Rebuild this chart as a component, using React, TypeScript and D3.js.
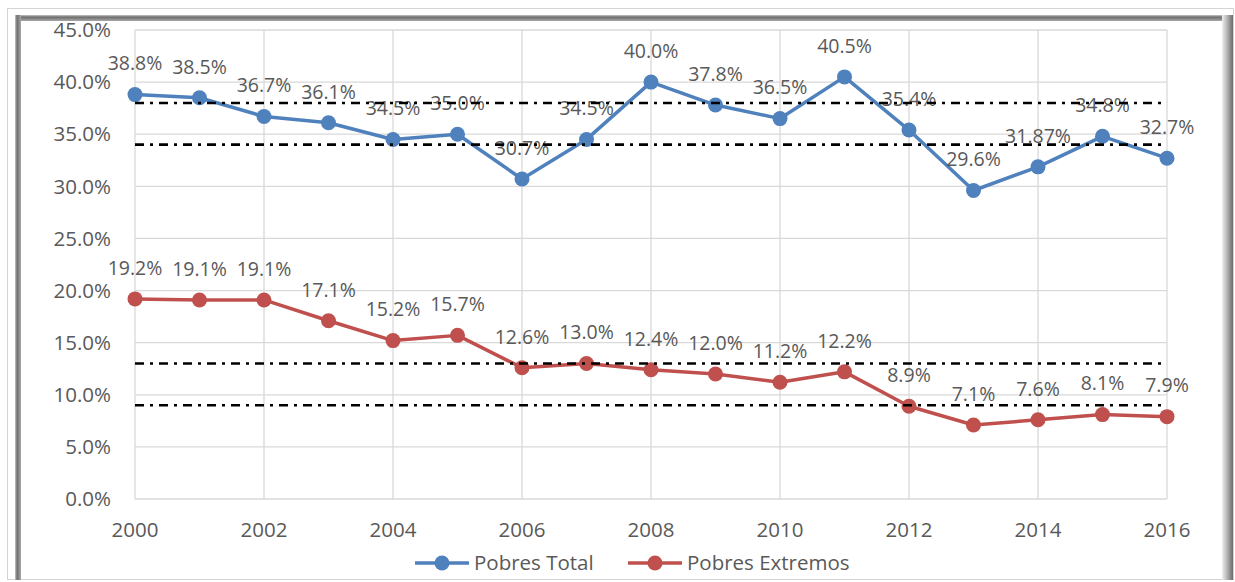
import React from 'react';
import * as d3 from 'd3';

const years = [2000, 2001, 2002, 2003, 2004, 2005, 2006, 2007, 2008, 2009, 2010, 2011, 2012, 2013, 2014, 2015, 2016];
const pobresTotal = [38.8, 38.5, 36.7, 36.1, 34.5, 35.0, 30.7, 34.5, 40.0, 37.8, 36.5, 40.5, 35.4, 29.6, 31.87, 34.8, 32.7];
const pobresExtremos = [19.2, 19.1, 19.1, 17.1, 15.2, 15.7, 12.6, 13.0, 12.4, 12.0, 11.2, 12.2, 8.9, 7.1, 7.6, 8.1, 7.9];
const yTicks = [0, 5, 10, 15, 20, 25, 30, 35, 40, 45];
const xTicks = [2000, 2002, 2004, 2006, 2008, 2010, 2012, 2014, 2016];
const refLines = [38, 34, 13, 9];
const seriesNames = ['Pobres Total', 'Pobres Extremos'];

const W = 1235;
const H = 582;
const FONT = '"Open Sans", "Noto Sans", sans-serif';
const TEXT = '#595959';
const GRID = '#d9d9d9';
const BLUE = '#4f81bd';
const RED = '#c0504d';

const fmtLabel = (v: number) => {
  const one = Math.abs(v * 10 - Math.round(v * 10)) < 1e-6;
  return (one ? v.toFixed(1) : v.toFixed(2)) + '%';
};

export default function App() {
  const x = d3.scaleLinear().domain([2000, 2016]).range([135, 1167]);
  const y = d3.scaleLinear().domain([0, 45]).range([499, 30]);
  const line = d3.line<number>().x((_, i) => x(years[i])).y((d) => y(d));
  const fmtAxis = d3.format('.1f');

  const series = [
    { name: seriesNames[0], values: pobresTotal, color: BLUE },
    { name: seriesNames[1], values: pobresExtremos, color: RED },
  ];

  const legend = [
    { name: seriesNames[0], color: BLUE, x0: 415 },
    { name: seriesNames[1], color: RED, x0: 628 },
  ];

  return (
    <div style={{ position: 'absolute', left: 0, top: 0 }}>
      <svg width={W} height={H} style={{ display: 'block', background: '#fff' }}>
        <defs>
          <linearGradient id="bandV" x1="0" y1="0" x2="0" y2="1">
            <stop offset="0" stopColor="#c8c8c8" />
            <stop offset="0.35" stopColor="#6e6e6e" />
            <stop offset="1" stopColor="#a8a8a8" />
          </linearGradient>
          <linearGradient id="bandH" x1="0" y1="0" x2="1" y2="0">
            <stop offset="0" stopColor="#c8c8c8" />
            <stop offset="0.35" stopColor="#6e6e6e" />
            <stop offset="1" stopColor="#a8a8a8" />
          </linearGradient>
          <linearGradient id="bandR" x1="0" y1="0" x2="1" y2="0">
            <stop offset="0" stopColor="#f0f0f0" />
            <stop offset="0.5" stopColor="#b0b0b0" />
            <stop offset="1" stopColor="#6a6a6a" />
          </linearGradient>
        </defs>

        {/* frame */}
        <rect x={7.5} y={8.5} width={1226} height={571} fill="#fff" stroke="#d4d4d4" strokeWidth={1} />
        <rect x={15} y={15} width={1208} height={6} fill="url(#bandV)" />
        <rect x={15} y={15} width={6} height={565} fill="url(#bandH)" />
        <rect x={1222} y={15} width={11} height={565} fill="url(#bandR)" />

        {/* grid */}
        {yTicks.map((t) => (
          <line key={'gy' + t} x1={x(2000)} x2={x(2016)} y1={y(t)} y2={y(t)} stroke={GRID} strokeWidth={1.3} />
        ))}
        {xTicks.map((t) => (
          <line key={'gx' + t} x1={x(t)} x2={x(t)} y1={y(0)} y2={y(45)} stroke={GRID} strokeWidth={1.3} />
        ))}

        {/* axis labels */}
        {yTicks.map((t) => (
          <text key={'ly' + t} x={111} y={y(t)} dy="0.35em" textAnchor="end" fontFamily={FONT} fontSize={20.5} fill={TEXT}>
            {fmtAxis(t)}%
          </text>
        ))}
        {xTicks.map((t) => (
          <text key={'lx' + t} x={x(t)} y={530} dy="0.35em" textAnchor="middle" fontFamily={FONT} fontSize={20.5} fill={TEXT}>
            {t}
          </text>
        ))}

        {/* series */}
        {series.map((s) => (
          <g key={s.name}>
            <path d={line(s.values) || ''} fill="none" stroke={s.color} strokeWidth={3.5} strokeLinejoin="round" />
            {s.values.map((v, i) => (
              <circle key={i} cx={x(years[i])} cy={y(v)} r={7.5} fill={s.color} />
            ))}
            {s.values.map((v, i) => (
              <text key={'t' + i} x={x(years[i])} y={y(v) - 31} dy="0.35em" textAnchor="middle" fontFamily={FONT} fontSize={19.5} fill={TEXT}>
                {fmtLabel(v)}
              </text>
            ))}
          </g>
        ))}

        {/* reference lines */}
        {refLines.map((r) => (
          <line key={'r' + r} x1={x(2000)} x2={x(2016)} y1={y(r)} y2={y(r)} stroke="#000" strokeWidth={2.6} strokeDasharray="9,6,3,6" />
        ))}

        {/* legend */}
        {legend.map((l) => (
          <g key={l.name}>
            <line x1={l.x0} x2={l.x0 + 54} y1={563} y2={563} stroke={l.color} strokeWidth={3.5} />
            <circle cx={l.x0 + 27} cy={563} r={7.5} fill={l.color} />
            <text x={l.x0 + 59} y={563} dy="0.35em" fontFamily={FONT} fontSize={20.5} fill={TEXT}>
              {l.name}
            </text>
          </g>
        ))}
      </svg>
    </div>
  );
}
